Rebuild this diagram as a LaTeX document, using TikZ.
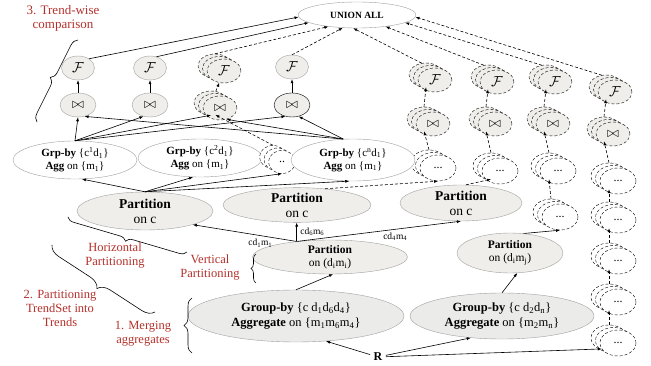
\documentclass[tikz,border=0pt]{standalone}
\usepackage{fontspec}
\setmainfont{Liberation Serif}
\usetikzlibrary{shapes.geometric, arrows.meta, decorations.pathreplacing, calc}
\definecolor{LabelRed}{HTML}{B3312C}
\definecolor{NodeFill}{HTML}{EFEEEA}
\definecolor{AggFill}{HTML}{EBEBEA}
\definecolor{EdgeGray}{HTML}{A0A0A0}

% stapel aus drei gestrichelten ellipsen
\newcommand{\trendstack}[5][]{%
  \node[ghost, #1] (#2-b) at (#3-9,#4-5) {};
  \node[ghost, #1] (#2-m) at (#3-4.5,#4-2.5) {};
  \node[ghost, #1] (#2) at (#3,#4) {#5};
}

\begin{document}
\begin{tikzpicture}[x=1pt, y=-1pt,
  font=\fontsize{12}{13}\selectfont,
  % Grundstile
  op/.style={ellipse, draw=EdgeGray, fill=NodeFill, minimum width=33pt,
    minimum height=24pt, inner sep=0pt, font=\fontsize{15}{16}\selectfont},
  ghost/.style={ellipse, draw, densely dashed, fill=#1, inner sep=0pt},
  ghost/.default=white,
  opsize/.style={minimum width=34pt, minimum height=24pt, font=\fontsize{15}{16}\selectfont},
  dotsize/.style={minimum width=36pt, minimum height=26pt},
  grp/.style={ellipse, draw=EdgeGray, fill=white, align=center, inner sep=0pt,
    minimum width=124pt, minimum height=38pt, font=\fontsize{11}{13}\selectfont},
  part/.style={ellipse, draw=EdgeGray, fill=NodeFill, align=center, inner sep=0pt},
  agg/.style={ellipse, draw=EdgeGray, fill=AggFill, align=center, inner sep=0pt},
  lbl/.style={font=\fontsize{12.5}{14}\selectfont, color=LabelRed, align=center},
  cdlbl/.style={font=\fontsize{9.5}{10}\selectfont},
  brace/.style={decorate, decoration={brace, mirror, amplitude=#1}, semithick},
  flow/.style={-{Latex[length=4pt, width=3pt]}, semithick},
  dflow/.style={flow, densely dashed}
]
\useasboundingbox (0,0) rectangle (651,366);

% =====================================================================
% OBEN: UNION ALL, F und Join
% =====================================================================
\node[ellipse, draw=EdgeGray, fill=white, minimum width=118pt, minimum height=26pt,
  font=\fontsize{9.5}{10}\selectfont\bfseries] (U) at (357,15) {UNION ALL};

\node[op] (F1) at (78,68) {$\mathcal{F}$};
\node[op] (F2) at (150,68) {$\mathcal{F}$};
\trendstack[ghost=NodeFill, opsize]{F3}{224}{71}{$\mathcal{F}$}
\node[op] (F4) at (292,67) {$\mathcal{F}$};

\node[op, minimum width=36pt] (J1) at (78,105) {$\bowtie$};
\node[op, minimum width=36pt] (J2) at (150,105) {$\bowtie$};
\trendstack[ghost=NodeFill, opsize]{J3}{220}{108}{$\bowtie$}
\node[op, minimum width=36pt, draw=black] (J4) at (292,105) {$\bowtie$};

\draw[flow] (F1.40) -- (U.182);
\draw[flow] (F2.60) -- (U.189);
\draw[dflow] (F3-b.north) -- (U.202);
\draw[dflow] (F4.north) -- (U.222);
\draw[flow] (J1) -- (F1);
\draw[flow] (J2) -- (F2);
\draw[dflow] (J3-b) -- (F3);
\draw[flow] (J4) -- (F4);

% Spalten rechts
\foreach \c/\x/\yf/\yj/\yd/\a in {a/435/80/124/168/254, b/497/82/124/171/338,
                               c/555/82/124/171/351, d/615/92/134/181/358} {
  \trendstack[ghost=NodeFill, opsize]{F\c}{\x}{\yf}{$\mathcal{F}$}
  \trendstack[ghost=NodeFill, opsize]{J\c}{\x-2}{\yj}{$\bowtie$}
  \trendstack[dotsize]{C\c}{\x+3}{\yd}{...}
  \draw[dflow] (J\c-b.north) -- (F\c-b.south);
  \draw[dflow] (C\c-b.north) -- (J\c-b.south);
  \draw[dflow] (F\c-b.110) -- (U.\a);
}
\trendstack[dotsize]{Cc2}{560}{217}{...}
\draw[dflow] (Cc2-b.north) -- (Cc-b.south);
\foreach \i/\y in {2/220, 3/261, 4/302, 5/343} {
  \trendstack[dotsize]{Cd\i}{618}{\y}{...}
}
\draw[dflow] (Cd2-b.north) -- (Cd-b.south);
\foreach \i in {3,4,5} {
  \pgfmathtruncatemacro{\j}{\i-1}
  \draw[dflow] (Cd\i-b.north) -- (Cd\j-b.south);
}

% =====================================================================
% MITTE: Grp-by und Partitionen
% =====================================================================
\node[grp] (G1) at (75,160) {\textbf{Grp-by} \{c\textsuperscript{1}d\textsubscript{1}\}\\\textbf{Agg} on \{m\textsubscript{1}\}};
\node[grp] (G2) at (200,158) {\textbf{Grp-by} \{c\textsuperscript{2}d\textsubscript{1}\}\\\textbf{Agg} on \{m\textsubscript{1}\}};
\trendstack[minimum width=27pt, minimum height=23pt]{Gd}{282}{162}{..}
\node[grp, minimum height=42pt] (Gn) at (353,160) {\textbf{Grp-by} \{c\textsuperscript{n}d\textsubscript{1}\}\\\textbf{Agg} on \{m\textsubscript{1}\}};

\draw[flow] (G1.north) -- (J1.south);
\draw[flow] (G1.north) -- (J2.240);
\draw[flow] (G1.north) -- (J3-b.south);
\draw[flow] (G1.north) -- (J4.240);
\draw[flow] (Gn.115) -- (J1.300);
\draw[flow] (Gn.115) -- (J3.300);
\draw[flow] (Gn.115) -- (J4.300);
\draw[dflow] (Gd-b.north) -- (J3-b.290);

\node[part, minimum width=136pt, minimum height=38pt, font=\fontsize{13.5}{15}\selectfont] (P1) at (145,211) {\textbf{Partition}\\on c};
\node[part, minimum width=148pt, minimum height=34pt, font=\fontsize{13.5}{15}\selectfont] (P2) at (297,205) {\textbf{Partition}\\on c};
\node[part, minimum width=122pt, minimum height=36pt, font=\fontsize{13.5}{15}\selectfont] (P3) at (461,203) {\textbf{Partition}\\on c};

\draw[flow] (P1.north) -- (G1.290);
\draw[flow] (P1.north) -- (G2.250);
\draw[flow] (P1.north) -- (Gd.south);
\draw[flow] (P1.north) -- (Gn.260);
\draw[dflow] (P2.30) -- (Ca.south);
\draw[dflow] (P3.75) -- (Cb-b.south);

\node[part, minimum width=155pt, minimum height=34pt, font=\fontsize{11.5}{13}\selectfont] (Pv) at (330,257) {\textbf{Partition}\\on (d\textsubscript{i}m\textsubscript{i})};
\node[part, minimum width=106pt, minimum height=40pt, font=\fontsize{11.5}{13}\selectfont] (Pj) at (510,253) {\textbf{Partition}\\on (d\textsubscript{i}m\textsubscript{j})};

\coordinate (pvtop) at (Pv.155);
\draw[flow] (pvtop) -- (P1.-16) node[cdlbl, pos=0.35, below] {cd\textsubscript{1}m\textsubscript{1}};
\draw[flow] (pvtop) -- (pvtop |- P2.south) node[cdlbl, pos=0.5, right] {cd\textsubscript{6}m\textsubscript{6}};
\draw[flow] (pvtop) -- (P3.south) node[cdlbl, pos=0.6, below] {cd\textsubscript{4}m\textsubscript{4}};
\draw[flow] (Pj.55) -- (Cc2.south);

% =====================================================================
% UNTEN: Aggregate und R
% =====================================================================
\node[agg, minimum width=216pt, minimum height=52pt, font=\fontsize{12.5}{15}\selectfont] (Ga) at (296,316) {\textbf{Group-by} \{c d\textsubscript{1}d\textsubscript{6}d\textsubscript{4}\}\\\textbf{Aggregate} on \{m\textsubscript{1}m\textsubscript{6}m\textsubscript{4}\}};
\node[agg, minimum width=184pt, minimum height=46pt, font=\fontsize{12.5}{15}\selectfont] (Gb) at (502,316) {\textbf{Group-by} \{c d\textsubscript{2}d\textsubscript{n}\}\\\textbf{Aggregate} on \{m\textsubscript{2}m\textsubscript{n}\}};
\node[font=\fontsize{12}{13}\selectfont\bfseries] (R) at (378,357) {R};

\draw[flow] (R) -- (Ga.-40);
\draw[flow] (R) -- (Gb.215);
\draw[flow] (R) -- (Cd5.200);
\draw[flow] (Ga.north) -- (Pv.-80);
\draw[flow] (Gb.north) -- (Pj.-70);

% =====================================================================
% KLAMMERN UND BESCHRIFTUNGEN
% =====================================================================
\node[lbl, font=\fontsize{13}{14}\selectfont] (tw) at (63,18) {3. Trend-wise\\comparison};
\draw[brace=8pt] (78,40) -- (37,122);

\node[lbl] (hp) at (115,256) {Horizontal\\Partitioning};
\draw[brace=7pt] (68,217) -- (187,252);

\node[lbl] (vp) at (210,268) {Vertical\\Partitioning};
\draw[brace=5pt] (256,254) -- (256,283);

\node[lbl] (pt) at (60,308) {2. Partitioning\\TrendSet into\\Trends};
\draw[brace=12pt] (52,245) -- (155,312);

\node[lbl] (ma) at (143,334) {1. Merging\\aggregates};
\draw[brace=8pt] (192,298) -- (192,353);
\end{tikzpicture}
\end{document}
